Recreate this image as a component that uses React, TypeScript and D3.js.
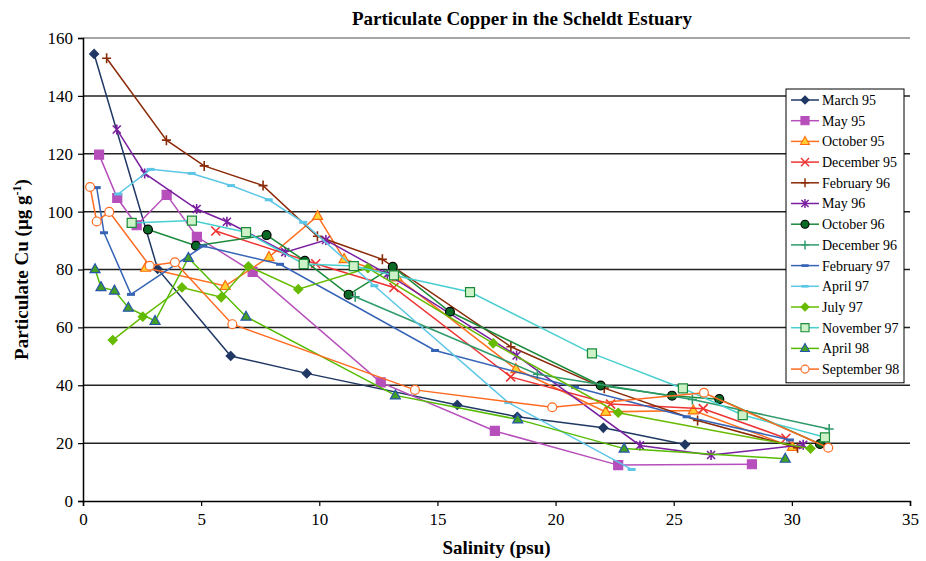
import { useRef, useEffect } from "react";
import * as d3 from "d3";

// salinity (psu), particulate Cu (ug/g)
const march95 = [[0.47, 154.5], [3.16, 80.2], [6.25, 50.1], [9.47, 44.1], [15.84, 33.2], [18.38, 29.1], [22.02, 25.3], [25.48, 19.5]];
const may95 = [[0.68, 119.7], [1.45, 104.7], [2.27, 95.3], [3.54, 105.8], [4.82, 91.3], [7.18, 79.2], [12.6, 41.0], [17.43, 24.2], [22.65, 12.4], [28.31, 12.7]];
const october95 = [[2.65, 80.6], [6.02, 74.3], [7.87, 84.3], [9.93, 98.5], [11.05, 83.6], [13.29, 77.3], [18.32, 45.6], [22.12, 30.8], [25.83, 31.3], [30.02, 18.7]];
const december95 = [[5.62, 93.3], [9.85, 82.0], [13.16, 73.8], [18.1, 42.9], [22.33, 33.5], [26.25, 31.9], [29.75, 21.7]];
const february96 = [[1.0, 153], [3.53, 124.7], [5.13, 115.8], [7.62, 109], [9.92, 91.5], [12.67, 83.5], [18.11, 53.3], [22.06, 39.0], [26.01, 27.8], [30.24, 18.4]];
const may96 = [[1.43, 128.4], [2.61, 113.2], [4.81, 100.9], [6.09, 96.5], [8.56, 86.0], [10.28, 90.2], [12.88, 78.4], [18.35, 50.3], [23.57, 19.2], [26.58, 15.9], [30.48, 19.4]];
const october96 = [[2.75, 93.8], [4.78, 88.2], [7.77, 91.9], [9.39, 83.0], [11.24, 71.3], [13.11, 80.9], [15.53, 65.4], [21.91, 39.9], [24.93, 36.4], [26.93, 35.2], [31.19, 19.7]];
const december96 = [[11.52, 70.6], [19.23, 43.8], [25.79, 35.1], [31.58, 24.9]];
const february97 = [[0.58, 108.3], [0.89, 92.7], [2.03, 71.4], [5.09, 88.1], [8.34, 81.8], [14.9, 52.0], [20.82, 39.3], [25.55, 29.1], [29.92, 21.1]];
const april97 = [[1.49, 106.1], [2.86, 114.6], [4.6, 113.2], [6.26, 109], [7.86, 104.1], [9.32, 96.3], [12.33, 74.4], [18.0, 34.0], [23.22, 10.9]];
const july97 = [[1.26, 55.6], [2.53, 63.7], [4.19, 73.8], [5.85, 70.4], [7.0, 81.1], [9.11, 73.2], [12.06, 80.5], [17.36, 54.5], [22.65, 30.5], [30.79, 18.1]];
const november97 = [[2.06, 96.1], [4.61, 96.9], [6.9, 92.9], [9.34, 81.9], [11.46, 81.2], [13.16, 78.0], [16.38, 72.2], [21.54, 51.0], [25.39, 38.9], [27.92, 29.7], [31.4, 22.0]];
const april98 = [[0.51, 80.1], [0.76, 73.9], [1.33, 72.7], [1.92, 66.8], [3.05, 62.2], [4.46, 84.0], [6.9, 63.7], [13.22, 36.5], [18.4, 28.2], [22.9, 18.1], [29.72, 14.6]];
const september98 = [[0.3, 108.5], [0.58, 96.6], [1.11, 99.9], [2.82, 81.3], [3.89, 82.5], [6.32, 61.1], [14.05, 38.4], [19.86, 32.4], [26.28, 37.4], [31.54, 18.4]];

const xTicks = [0, 5, 10, 15, 20, 25, 30, 35];
const yTicks = [0, 20, 40, 60, 80, 100, 120, 140, 160];

const series = [
  { name: "March 95", data: march95, line: "#1f3864", marker: "diamond", fill: "#1f3864", stroke: "#1f3864" },
  { name: "May 95", data: may95, line: "#b64fbb", marker: "square", fill: "#b64fbb", stroke: "#b64fbb" },
  { name: "October 95", data: october95, line: "#ff7020", marker: "triangle", fill: "#ffd030", stroke: "#ff6a10" },
  { name: "December 95", data: december95, line: "#ee3333", marker: "x", fill: "none", stroke: "#ee3333" },
  { name: "February 96", data: february96, line: "#8b2a08", marker: "plus", fill: "none", stroke: "#8b2a08" },
  { name: "May 96", data: may96, line: "#7a1fa0", marker: "star", fill: "none", stroke: "#7a1fa0" },
  { name: "October 96", data: october96, line: "#1b8a3a", marker: "circle", fill: "#0b6b26", stroke: "#000" },
  { name: "December 96", data: december96, line: "#2e9a6a", marker: "plus", fill: "none", stroke: "#2e9a6a" },
  { name: "February 97", data: february97, line: "#3563b5", marker: "dash", fill: "#3563b5", stroke: "none" },
  { name: "April 97", data: april97, line: "#5cc6e6", marker: "dash", fill: "#5cc6e6", stroke: "none" },
  { name: "July 97", data: july97, line: "#66bb00", marker: "diamond", fill: "#66bb00", stroke: "#66bb00" },
  { name: "November 97", data: november97, line: "#48cfd0", marker: "square", fill: "#cdf2c8", stroke: "#1b8a3a" },
  { name: "April 98", data: april98, line: "#55bb00", marker: "triangle", fill: "#44a022", stroke: "#2555aa" },
  { name: "September 98", data: september98, line: "#ff6a20", marker: "circle", fill: "#fff", stroke: "#ff6a20" },
];

const markerPath = (kind) => {
  switch (kind) {
    case "diamond": return "M0,-4.5L4.5,0L0,4.5L-4.5,0Z";
    case "square": return "M-4.5,-4.5H4.5V4.5H-4.5Z";
    case "triangle": return "M0,-5.5L5,3.5H-5Z";
    case "x": return "M-4.5,-4.5L4.5,4.5M-4.5,4.5L4.5,-4.5";
    case "plus": return "M-4.5,0H4.5M0,-5V5";
    case "star": return "M-4,-4L4,4M-4,4L4,-4M0,-5V5";
    case "circle": return d3.symbol(d3.symbolCircle, 62)();
    case "dash": return "M-4,-1.5H4V1.5H-4Z";
    default: return "";
  }
};

const App = () => {
  const svgRef = useRef();

  useEffect(() => {
    const svg = d3.select(svgRef.current);
    svg.selectAll("*").remove();

    const margin = { left: 83, right: 16, top: 38, bottom: 60 };
    const width = 926, height = 561;
    const font = "'Liberation Serif', 'Times New Roman', serif";

    const x = d3.scaleLinear().domain([0, 35]).range([margin.left, width - margin.right]);
    const y = d3.scaleLinear().domain([0, 160]).range([height - margin.bottom, margin.top]);

    // gridlines
    svg.append("g")
      .selectAll("line")
      .data(yTicks.filter(t => t > 0))
      .join("line")
      .attr("x1", x(0)).attr("x2", x(35))
      .attr("y1", d => y(d)).attr("y2", d => y(d))
      .attr("stroke", d => d === 160 ? "#888" : "#222")
      .attr("stroke-width", 1.5);

    // axes
    const xAxis = svg.append("g")
      .attr("transform", `translate(0,${y(0)})`)
      .call(d3.axisBottom(x).tickValues(xTicks).tickSize(5).tickPadding(7));
    const yAxis = svg.append("g")
      .attr("transform", `translate(${x(0)},0)`)
      .call(d3.axisLeft(y).tickValues(yTicks).tickSize(5).tickPadding(5));
    [xAxis, yAxis].forEach(g => {
      g.select(".domain").attr("stroke", "#000").attr("stroke-width", 1.5);
      g.selectAll(".tick line").attr("stroke", "#000").attr("stroke-width", 1.2);
      g.selectAll("text").attr("font-family", font).attr("font-size", 17).attr("fill", "#000");
    });

    const line = d3.line().x(d => x(d[0])).y(d => y(d[1]));

    series.forEach(s => {
      svg.append("path")
        .datum(s.data)
        .attr("d", line)
        .attr("fill", "none")
        .attr("stroke", s.line)
        .attr("stroke-width", 1.5);
      svg.append("g")
        .selectAll("path")
        .data(s.data)
        .join("path")
        .attr("transform", d => `translate(${x(d[0])},${y(d[1])})`)
        .attr("d", markerPath(s.marker))
        .attr("fill", s.fill)
        .attr("stroke", s.stroke)
        .attr("stroke-width", s.fill === "none" ? 1.6 : 1.2);
    });

    // legend
    const legend = svg.append("g").attr("transform", "translate(786,89)");
    const rowH = 20.7;
    legend.append("rect")
      .attr("width", 118).attr("height", series.length * rowH + 4)
      .attr("fill", "#fff").attr("stroke", "#000").attr("stroke-width", 1);
    const rows = legend.selectAll("g.row")
      .data(series)
      .join("g")
      .attr("class", "row")
      .attr("transform", (_, i) => `translate(0,${11 + i * rowH})`);
    rows.append("line")
      .attr("x1", 5).attr("x2", 33)
      .attr("stroke", d => d.line).attr("stroke-width", 1.5);
    rows.append("path")
      .attr("transform", "translate(19,0) scale(0.9)")
      .attr("d", d => markerPath(d.marker))
      .attr("fill", d => d.fill)
      .attr("stroke", d => d.stroke)
      .attr("stroke-width", d => d.fill === "none" ? 1.6 : 1.2);
    rows.append("text")
      .attr("x", 36).attr("dy", "0.35em")
      .attr("font-family", font).attr("font-size", 14)
      .text(d => d.name);

    // titles
    svg.append("text")
      .attr("x", 522).attr("y", 25)
      .attr("text-anchor", "middle")
      .attr("font-family", font).attr("font-size", 19).attr("font-weight", "bold")
      .text("Particulate Copper in the Scheldt Estuary");

    svg.append("text")
      .attr("x", x(17.5)).attr("y", 554)
      .attr("text-anchor", "middle")
      .attr("font-family", font).attr("font-size", 19).attr("font-weight", "bold")
      .text("Salinity (psu)");

    const yl = svg.append("text")
      .attr("transform", `translate(28,${y(80)}) rotate(-90)`)
      .attr("text-anchor", "middle")
      .attr("font-family", font).attr("font-size", 19).attr("font-weight", "bold");
    yl.append("tspan").text("Particulate Cu (µg g");
    yl.append("tspan").attr("baseline-shift", "super").attr("font-size", 12).text("-1");
    yl.append("tspan").text(")");
  }, []);

  return (
    <svg
      ref={svgRef}
      width={926}
      height={561}
      style={{ position: "absolute", left: 0, top: 0, background: "#fff" }}
    />
  );
};

export default App;
